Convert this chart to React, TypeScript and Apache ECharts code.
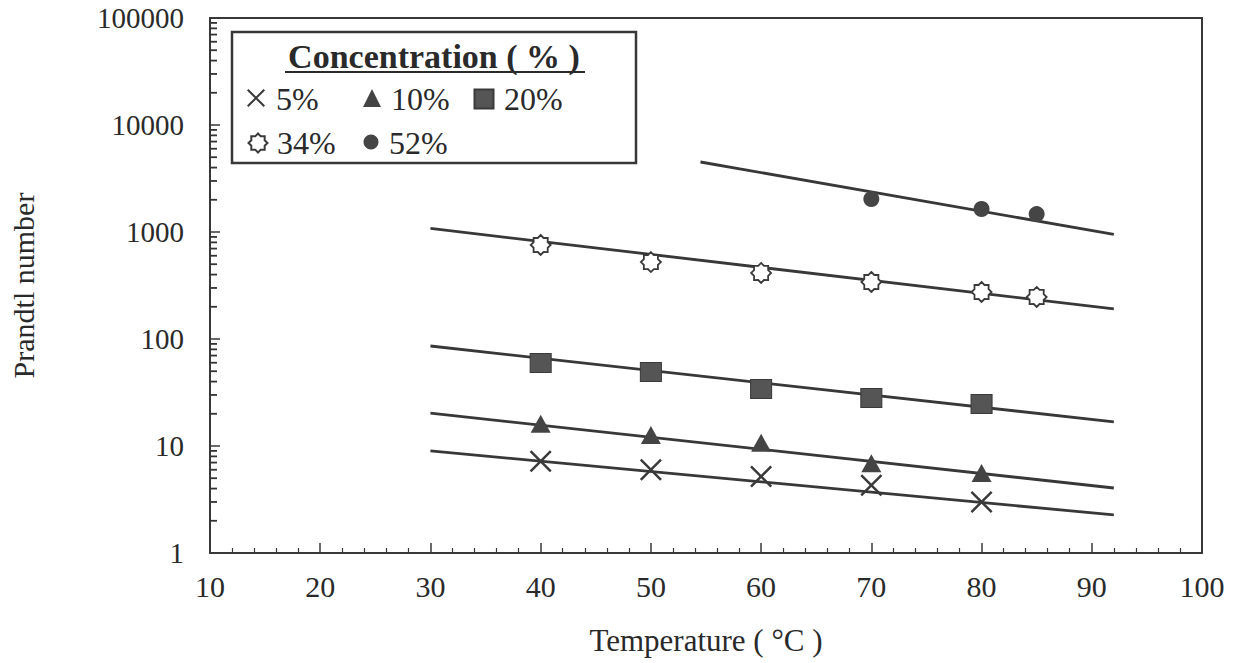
import React, { useEffect, useRef } from "react";
import * as echarts from "echarts";

// ---- data ----
const temps = [40, 50, 60, 70, 80];
const temps34 = [40, 50, 60, 70, 80, 85];
const temps52 = [70, 80, 85];
const pr5 = [7.2, 6.0, 5.2, 4.3, 3.0];
const pr10 = [16.1, 12.7, 10.7, 6.9, 5.6];
const pr20 = [59.7, 49.2, 34.1, 28.1, 24.7];
const pr34 = [756, 524, 414, 341, 275, 247];
const pr52 = [2030, 1640, 1470];

// fitted lines (start / end temperature and value)
const fitX = [30, 92];
const fitX52 = [54.5, 92];
const fit5 = [9.0, 2.27];
const fit10 = [20.3, 4.05];
const fit20 = [86, 16.8];
const fit34 = [1080, 191];
const fit52 = [4510, 950];

const seriesNames = ["5%", "10%", "20%", "34%", "52%"];
const decades = [1, 10, 100, 1000, 10000];
const minorMultipliers = [2, 3, 4, 5, 6, 7, 8, 9];

const FONT = "Liberation Serif";
const INK = "#2a2a2a";
const LINE = "#383838";

const X_PATH =
  "path://M1.6,0 L10,8.4 L18.4,0 L20,1.6 L11.6,10 L20,18.4 L18.4,20 L10,11.6 L1.6,20 L0,18.4 L8.4,10 L0,1.6 Z";

function starPath(): string {
  const pts: string[] = [];
  const n = 8;
  for (let i = 0; i < n * 2; i++) {
    const r = i % 2 === 0 ? 10 : 7.6;
    const a = (Math.PI * i) / n - Math.PI / 2;
    pts.push(`${(10 + r * Math.cos(a)).toFixed(2)},${(10 + r * Math.sin(a)).toFixed(2)}`);
  }
  return "path://M" + pts.join(" L") + " Z";
}

const zip = (xs: number[], ys: number[]) => xs.map((x, i) => [x, ys[i]]);

export default function App() {
  const ref = useRef<HTMLDivElement>(null);

  useEffect(() => {
    if (!ref.current) return;
    const chart = echarts.init(ref.current, undefined, { renderer: "svg" });
    const STAR = starPath();

    const minorTickData: number[][] = [];
    decades.forEach((d) => minorMultipliers.forEach((m) => minorTickData.push([10, d * m])));

    const fitSeries = (name: string, xs: number[], ys: number[]) => ({
      name,
      type: "line",
      data: zip(xs, ys),
      showSymbol: false,
      symbol: "none",
      silent: true,
      z: 2,
      lineStyle: { color: LINE, width: 2.8 },
    });

    const legendIcon = (name: string, cx: number, cy: number, size: number) => ({
      data: [name],
      left: cx - size / 2,
      top: cy - size / 2,
      padding: 0,
      itemWidth: size,
      itemHeight: size,
      itemGap: 0,
      selectedMode: false,
      formatter: () => "",
      textStyle: { fontSize: 1 },
    });

    const legendText = (text: string, x: number, y: number) => ({
      type: "text",
      x,
      y,
      style: {
        text,
        fontFamily: FONT,
        fontSize: 32,
        fill: INK,
        align: "left",
        verticalAlign: "middle",
      },
    });

    const option: any = {
      animation: false,
      backgroundColor: "#ffffff",
      textStyle: { fontFamily: FONT },
      grid: {
        left: 208,
        top: 18,
        right: 41,
        bottom: 110,
        show: true,
        borderColor: LINE,
        borderWidth: 2,
        backgroundColor: "transparent",
      },
      xAxis: {
        type: "value",
        min: 10,
        max: 100,
        interval: 10,
        name: "Temperature ( °C )",
        nameLocation: "middle",
        nameGap: 72,
        nameTextStyle: { fontFamily: FONT, fontSize: 31, color: INK },
        axisLine: { lineStyle: { color: LINE, width: 2 } },
        axisTick: { inside: true, length: 10, lineStyle: { color: LINE, width: 1.5 } },
        minorTick: { show: true, splitNumber: 5, length: 5, lineStyle: { color: LINE, width: 1.2 } },
        splitLine: { show: false },
        axisLabel: { fontFamily: FONT, fontSize: 30, color: INK, margin: 18 },
      },
      yAxis: {
        type: "log",
        logBase: 10,
        min: 1,
        max: 100000,
        name: "Prandtl number",
        nameLocation: "middle",
        nameGap: 172,
        nameTextStyle: { fontFamily: FONT, fontSize: 30, color: INK },
        axisLine: { lineStyle: { color: LINE, width: 2 } },
        axisTick: { inside: true, length: 10, lineStyle: { color: LINE, width: 1.5 } },
        splitLine: { show: false },
        axisLabel: {
          fontFamily: FONT,
          fontSize: 29,
          color: INK,
          margin: 26,
          formatter: (v: number) => String(Math.round(v)),
        },
      },
      legend: [
        legendIcon("5%", 256, 98, 18),
        legendIcon("10%", 372, 98, 18),
        legendIcon("20%", 483, 98, 19),
        legendIcon("34%", 257, 142, 19),
        legendIcon("52%", 371, 142, 15),
      ],
      graphic: [
        {
          type: "rect",
          shape: { x: 232, y: 32, width: 404, height: 131 },
          style: { fill: "none", stroke: LINE, lineWidth: 2.5 },
          z: 1,
        },
        {
          type: "text",
          x: 434,
          y: 56,
          style: {
            text: "Concentration ( % )",
            fontFamily: FONT,
            fontSize: 34,
            fontWeight: "bold",
            fill: INK,
            align: "center",
            verticalAlign: "middle",
          },
        },
        {
          type: "line",
          shape: { x1: 285, y1: 72, x2: 585, y2: 72 },
          style: { stroke: INK, lineWidth: 2 },
        },
        legendText(seriesNames[0], 276, 99),
        legendText(seriesNames[1], 391, 99),
        legendText(seriesNames[2], 504, 99),
        legendText(seriesNames[3], 277, 143),
        legendText(seriesNames[4], 389, 143),
      ],
      series: [
        {
          name: "yMinorTicks",
          type: "scatter",
          clip: false,
          data: minorTickData,
          symbol: "rect",
          symbolSize: [7, 1.8],
          symbolOffset: [3.5, 0],
          itemStyle: { color: "#333333", opacity: 1 },
        },
        fitSeries("fit5", fitX, fit5),
        fitSeries("fit10", fitX, fit10),
        fitSeries("fit20", fitX, fit20),
        fitSeries("fit34", fitX, fit34),
        fitSeries("fit52", fitX52, fit52),
        {
          name: seriesNames[0],
          type: "scatter",
          data: zip(temps, pr5),
          symbol: X_PATH,
          symbolSize: 22,
          z: 5,
          itemStyle: { color: "#3a3a3a", opacity: 1 },
        },
        {
          name: seriesNames[1],
          type: "scatter",
          data: zip(temps, pr10),
          symbol: "triangle",
          symbolSize: [20, 18],
          z: 5,
          itemStyle: { color: "#444444", opacity: 1 },
        },
        {
          name: seriesNames[2],
          type: "scatter",
          data: zip(temps, pr20),
          symbol: "rect",
          symbolSize: [21, 19],
          z: 5,
          itemStyle: { color: "#555555", borderColor: "#3a3a3a", borderWidth: 1, opacity: 1 },
        },
        {
          name: seriesNames[3],
          type: "scatter",
          data: zip(temps34, pr34),
          symbol: STAR,
          symbolSize: 20,
          z: 5,
          itemStyle: { color: "#ffffff", borderColor: "#3a3a3a", borderWidth: 1.8, opacity: 1 },
        },
        {
          name: seriesNames[4],
          type: "scatter",
          data: zip(temps52, pr52),
          symbol: "circle",
          symbolSize: 16,
          z: 5,
          itemStyle: { color: "#454545", opacity: 1 },
        },
      ],
    };

    chart.setOption(option);
    return () => chart.dispose();
  }, []);

  return (
    <div
      ref={ref}
      style={{ position: "fixed", left: 0, top: 0, width: 1243, height: 663, background: "#fff" }}
    />
  );
}
